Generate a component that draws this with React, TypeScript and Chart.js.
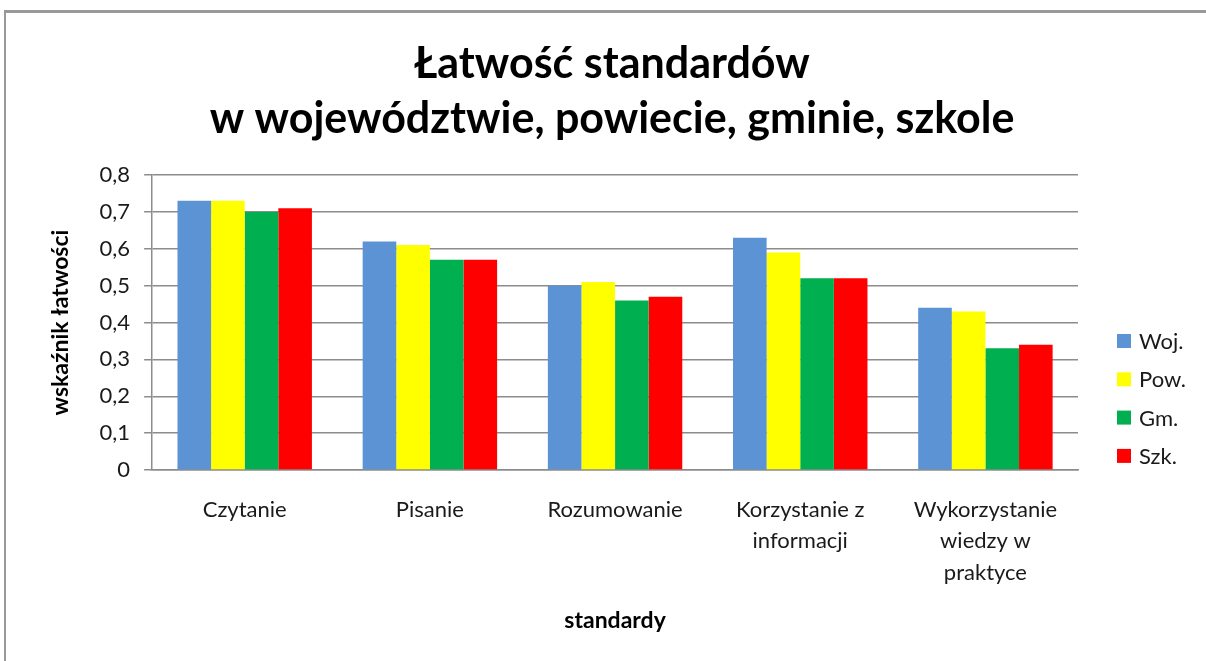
import React, { useEffect, useRef } from "react";
import { Chart, registerables } from "chart.js";

Chart.register(...registerables);

const categories: (string | string[])[] = [
  "Czytanie",
  "Pisanie",
  "Rozumowanie",
  ["Korzystanie z", "informacji"],
  ["Wykorzystanie", "wiedzy w", "praktyce"],
];

const seriesNames = ["Woj.", "Pow.", "Gm.", "Szk."];
const wojValues = [0.73, 0.62, 0.5, 0.63, 0.44];
const powValues = [0.73, 0.61, 0.51, 0.59, 0.43];
const gmValues = [0.7, 0.57, 0.46, 0.52, 0.33];
const szkValues = [0.71, 0.57, 0.47, 0.52, 0.34];
const seriesColors = ["#5B93D5", "#FFFF00", "#00B050", "#FF0000"];

const titleLines = ["Łatwość standardów", "w województwie, powiecie, gminie, szkole"];
const yAxisTitle = "wskaźnik łatwości";
const xAxisTitle = "standardy";
const yTicks = [0, 0.1, 0.2, 0.3, 0.4, 0.5, 0.6, 0.7, 0.8];

const FONT = "Lato, 'Open Sans', sans-serif";

const customTitleAndLegend = {
  id: "customTitleAndLegend",
  afterDraw(chart: any) {
    const ctx = chart.ctx;
    ctx.save();
    // title
    ctx.fillStyle = "#000";
    ctx.font = `bold 43px ${FONT}`;
    ctx.textAlign = "center";
    ctx.textBaseline = "middle";
    ctx.fillText(titleLines[0], 612, 64);
    ctx.fillText(titleLines[1], 612, 119);
    // legend
    const startY = 341;
    const step = 38.3;
    chart.data.datasets.forEach((ds: any, i: number) => {
      const y = startY + i * step;
      ctx.fillStyle = ds.backgroundColor;
      ctx.fillRect(1117, y - 7, 14, 14);
      ctx.fillStyle = "#1a1a1a";
      ctx.font = `22px ${FONT}`;
      ctx.textBaseline = "middle";
      ctx.textAlign = "left";
      ctx.fillText(ds.label, 1139, y + 1);
    });
    ctx.restore();
  },
};

export default function App() {
  const ref = useRef<HTMLCanvasElement | null>(null);
  useEffect(() => {
    document.body.style.margin = "0";
    const values = [wojValues, powValues, gmValues, szkValues];
    const chart = new Chart(ref.current as HTMLCanvasElement, {
      type: "bar",
      data: {
        labels: categories,
        datasets: seriesNames.map((name, i) => ({
          label: name,
          data: values[i],
          backgroundColor: seriesColors[i],
          borderWidth: 0,
          categoryPercentage: 0.726,
          barPercentage: 1.0,
        })),
      },
      options: {
        animation: false,
        responsive: false,
        maintainAspectRatio: false,
        layout: { padding: { left: 47, right: 128, top: 175, bottom: 27 } },
        plugins: {
          legend: { display: false },
          tooltip: { enabled: false },
          title: { display: false },
        },
        scales: {
          x: {
            grid: { display: false, drawTicks: false },
            border: { display: true, color: "#8c8c8c", width: 1.5 },
            ticks: {
              color: "#1a1a1a",
              font: { family: FONT, size: 22, lineHeight: 1.43 },
              padding: 24,
              maxRotation: 0,
              autoSkip: false,
            },
            title: {
              display: true,
              text: xAxisTitle,
              color: "#000",
              font: { family: FONT, size: 23, weight: "bold" },
              padding: { top: -6, bottom: 0 },
            },
          },
          y: {
            min: 0,
            max: 0.8,
            afterBuildTicks: (axis: any) => {
              axis.ticks = yTicks.map((v) => ({ value: v }));
            },
            grid: { color: "#8c8c8c", lineWidth: 1.5, tickLength: 8 },
            border: { display: true, color: "#8c8c8c", width: 1.5 },
            ticks: {
              color: "#1a1a1a",
              font: { family: FONT, size: 22 },
              padding: 14,
              callback: (v: any) => (Number(v) === 0 ? "0" : Number(v).toFixed(1).replace(".", ",")),
            },
            title: {
              display: true,
              text: yAxisTitle,
              color: "#000",
              font: { family: FONT, size: 23, weight: "bold" },
              padding: { top: 0, bottom: 11 },
            },
          },
        },
      },
      plugins: [customTitleAndLegend],
    });
    return () => chart.destroy();
  }, []);

  return (
    <div style={{ position: "relative", width: 1206, height: 661, overflow: "hidden", background: "#fff" }}>
      <canvas ref={ref} width={1206} height={661} style={{ position: "absolute", left: 0, top: 0 }} />
      <div
        style={{
          position: "absolute",
          left: 4,
          top: 10,
          width: 1400,
          height: 800,
          borderLeft: "2px solid #999",
          borderTop: "3px solid #999",
          pointerEvents: "none",
        }}
      />
    </div>
  );
}
